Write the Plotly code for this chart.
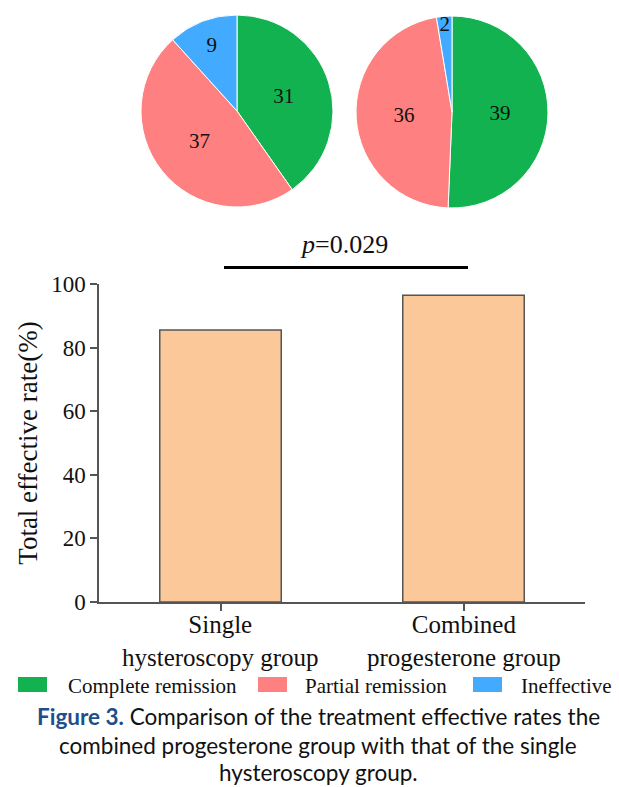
import plotly.graph_objects as go

# ---- data -------------------------------------------------------------
outcomes = ["Complete remission", "Partial remission", "Ineffective"]
outcome_colors = ["#12B250", "#FF8080", "#42AAFF"]
single_counts = [31, 37, 9]
combined_counts = [39, 36, 2]

groups = ["Single<br>hysteroscopy group", "Combined<br>progesterone group"]
effective_rate = [85.5, 96.5]
y_ticks = [0, 20, 40, 60, 80, 100]
p_text = "<i>p</i>=0.029"

# ---- canvas helpers (pixel -> paper) ----------------------------------
W, H = 619, 787
def px(x):
    return x / W
def py(y):
    return 1 - y / H

SERIF = "Liberation Serif"
SANS = "Lato"
INK = "#111111"

fig = go.Figure()

# ---- pies -------------------------------------------------------------
pie_boxes = [(141, 333, 15, 207), (356, 548, 16, 208)]
for counts, (x0, x1, y0, y1) in zip([single_counts, combined_counts], pie_boxes):
    fig.add_trace(go.Pie(
        labels=outcomes,
        values=counts,
        sort=False,
        direction="clockwise",
        rotation=0,
        marker=dict(colors=outcome_colors, line=dict(color="white", width=1)),
        textinfo="value",
        textposition="inside",
        insidetextorientation="horizontal",
        textfont=dict(family=SERIF, size=21, color=INK),
        domain=dict(x=[px(x0), px(x1)], y=[py(y1), py(y0)]),
        showlegend=False,
        hoverinfo="label+value",
    ))

# ---- bars -------------------------------------------------------------
fig.add_trace(go.Bar(
    x=[0, 1],
    y=effective_rate,
    width=0.5,
    marker=dict(color="#FBC999", line=dict(color="#555555", width=1.5)),
    showlegend=False,
    hovertemplate="%{y}%<extra></extra>",
))

axis_col = "#555555"
fig.update_layout(
    width=W, height=H,
    margin=dict(l=0, r=0, t=0, b=0, pad=0, autoexpand=False),
    paper_bgcolor="white", plot_bgcolor="white",
    showlegend=False,
    uniformtext=dict(minsize=21, mode="show"),
    xaxis=dict(
        domain=[px(99), px(585)],
        range=[-0.5, 1.5],
        tickvals=[0, 1],
        showticklabels=False,
        ticks="outside", ticklen=7, tickwidth=1.5, tickcolor=axis_col,
        showline=True, linecolor=axis_col, linewidth=1.5,
        showgrid=False, zeroline=False, automargin=False,
    ),
    yaxis=dict(
        domain=[py(602), py(284)],
        range=[0, 100],
        tickvals=y_ticks,
        ticks="outside", ticklen=7, tickwidth=1.5, tickcolor=axis_col,
        showline=True, linecolor=axis_col, linewidth=1.5,
        showgrid=False, zeroline=False, automargin=False,
        tickfont=dict(family=SERIF, size=23, color=INK),
        title=dict(text="Total effective rate(%)",
                   font=dict(family=SERIF, size=27, color=INK),
                   standoff=6),
    ),
)

# ---- category labels under the bars ----------------------------------
for i, g in enumerate(groups):
    fig.add_annotation(text=g, xref="x", yref="paper",
                       x=i, y=py(641), yanchor="middle", showarrow=False,
                       font=dict(family=SERIF, size=25, color=INK))

# ---- significance bar -------------------------------------------------
fig.add_shape(type="line", xref="paper", yref="paper",
              x0=px(224), x1=px(468), y0=py(267.5), y1=py(267.5),
              line=dict(color="black", width=3))
fig.add_annotation(text=p_text, xref="paper", yref="paper",
                   x=px(344), y=py(245), yanchor="middle", showarrow=False,
                   font=dict(family=SERIF, size=26, color=INK))

# ---- legend (swatches + labels) ---------------------------------------
legend_swatch_x = [18, 258, 473]
legend_text_x = [66, 303, 519]
for name, col, sx, tx in zip(outcomes, outcome_colors, legend_swatch_x, legend_text_x):
    fig.add_shape(type="rect", xref="paper", yref="paper",
                  x0=px(sx), x1=px(sx + 29), y0=py(692), y1=py(677),
                  fillcolor=col, line=dict(width=0))
    fig.add_annotation(text=name, xref="paper", yref="paper",
                       x=px(tx), y=py(686), xanchor="left", yanchor="middle",
                       showarrow=False,
                       font=dict(family=SERIF, size=21, color=INK))

# ---- caption ----------------------------------------------------------
caption_lines = [
    "<b><span style='color:#1F4E8C'>Figure 3.</span></b> Comparison of the treatment effective rates the",
    "combined progesterone group with that of the single",
    "hysteroscopy group.",
]
caption_y = [716, 745, 772]
for line, cy in zip(caption_lines, caption_y):
    fig.add_annotation(text=line, xref="paper", yref="paper",
                       x=px(318), y=py(cy), yanchor="middle", showarrow=False,
                       font=dict(family=SANS, size=22.5, color=INK))

fig.write_html("out.html")
